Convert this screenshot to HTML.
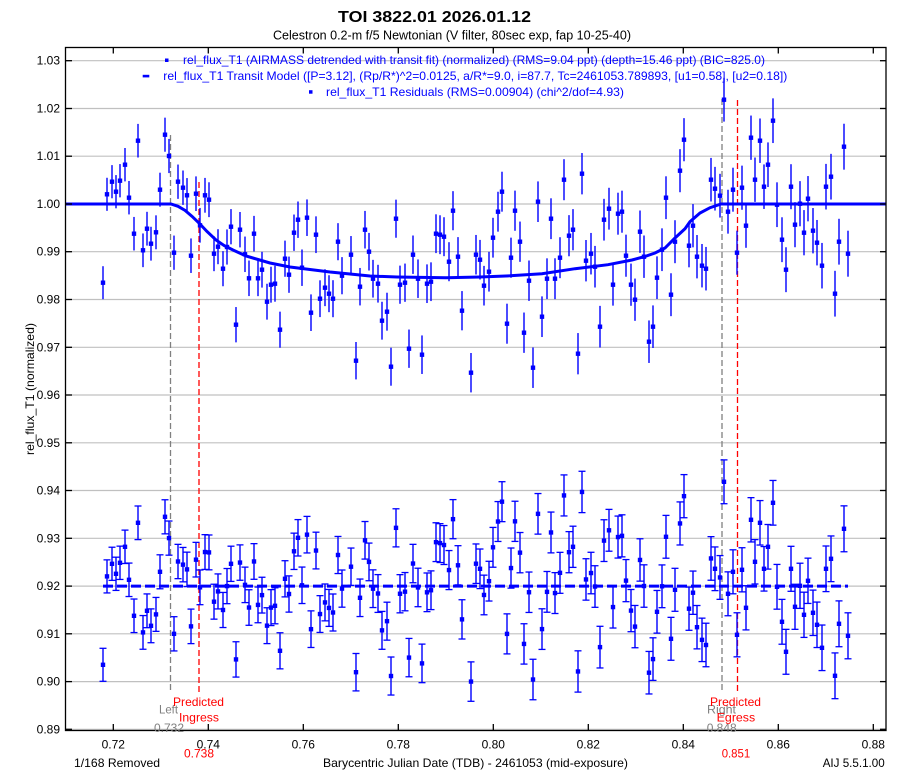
<!DOCTYPE html>
<html>
<head>
<meta charset="utf-8">
<style>
html,body{margin:0;padding:0;background:#fff;}
svg{display:block;}
text{font-family:"Liberation Sans",Arial,sans-serif;}
</style>
</head>
<body>
<svg id="chart" xmlns="http://www.w3.org/2000/svg" width="904" height="774" viewBox="0 0 904 774">
<rect x="0" y="0" width="904" height="774" fill="#fff"/>
<!-- gridlines -->
<g stroke="#c0c0c0" stroke-width="1.2">
<line x1="66" x2="886" y1="60.7" y2="60.7"/>
<line x1="66" x2="886" y1="108.5" y2="108.5"/>
<line x1="66" x2="886" y1="156.2" y2="156.2"/>
<line x1="66" x2="886" y1="204" y2="204"/>
<line x1="66" x2="886" y1="251.7" y2="251.7"/>
<line x1="66" x2="886" y1="299.5" y2="299.5"/>
<line x1="66" x2="886" y1="347.3" y2="347.3"/>
<line x1="66" x2="886" y1="395" y2="395"/>
<line x1="66" x2="886" y1="442.8" y2="442.8"/>
<line x1="66" x2="886" y1="490.5" y2="490.5"/>
<line x1="66" x2="886" y1="538.3" y2="538.3"/>
<line x1="66" x2="886" y1="586.1" y2="586.1"/>
<line x1="66" x2="886" y1="633.8" y2="633.8"/>
<line x1="66" x2="886" y1="681.6" y2="681.6"/>
<line x1="66" x2="886" y1="729.3" y2="729.3"/>
</g>
<!-- vertical dashed markers -->
<g stroke-width="1.3" stroke-dasharray="6 3" fill="none">
<line x1="170.5" x2="170.5" y1="135" y2="692" stroke="#808080"/>
<line x1="199" x2="199" y1="182" y2="692" stroke="#ff0000"/>
<line x1="722" x2="722" y1="99" y2="692" stroke="#808080"/>
<line x1="737.5" x2="737.5" y1="100" y2="692" stroke="#ff0000"/>
</g>
<g id="data"></g>
<!-- frame -->
<rect x="65.5" y="47.5" width="820.5" height="683" fill="none" stroke="#000" stroke-width="1.3"/>
<g stroke="#000" stroke-width="1.3">
<line x1="66" x2="72" y1="60.7" y2="60.7"/><line x1="880" x2="886" y1="60.7" y2="60.7"/>
<line x1="66" x2="72" y1="108.5" y2="108.5"/><line x1="880" x2="886" y1="108.5" y2="108.5"/>
<line x1="66" x2="72" y1="156.2" y2="156.2"/><line x1="880" x2="886" y1="156.2" y2="156.2"/>
<line x1="66" x2="72" y1="204" y2="204"/><line x1="880" x2="886" y1="204" y2="204"/>
<line x1="66" x2="72" y1="251.7" y2="251.7"/><line x1="880" x2="886" y1="251.7" y2="251.7"/>
<line x1="66" x2="72" y1="299.5" y2="299.5"/><line x1="880" x2="886" y1="299.5" y2="299.5"/>
<line x1="66" x2="72" y1="347.3" y2="347.3"/><line x1="880" x2="886" y1="347.3" y2="347.3"/>
<line x1="66" x2="72" y1="395" y2="395"/><line x1="880" x2="886" y1="395" y2="395"/>
<line x1="66" x2="72" y1="442.8" y2="442.8"/><line x1="880" x2="886" y1="442.8" y2="442.8"/>
<line x1="66" x2="72" y1="490.5" y2="490.5"/><line x1="880" x2="886" y1="490.5" y2="490.5"/>
<line x1="66" x2="72" y1="538.3" y2="538.3"/><line x1="880" x2="886" y1="538.3" y2="538.3"/>
<line x1="66" x2="72" y1="586.1" y2="586.1"/><line x1="880" x2="886" y1="586.1" y2="586.1"/>
<line x1="66" x2="72" y1="633.8" y2="633.8"/><line x1="880" x2="886" y1="633.8" y2="633.8"/>
<line x1="66" x2="72" y1="681.6" y2="681.6"/><line x1="880" x2="886" y1="681.6" y2="681.6"/>
<line x1="66" x2="72" y1="729.3" y2="729.3"/><line x1="880" x2="886" y1="729.3" y2="729.3"/>
<line x1="113.3" x2="113.3" y1="47" y2="53.5"/><line x1="113.3" x2="113.3" y1="724" y2="730.5"/>
<line x1="208.3" x2="208.3" y1="47" y2="53.5"/><line x1="208.3" x2="208.3" y1="724" y2="730.5"/>
<line x1="303.3" x2="303.3" y1="47" y2="53.5"/><line x1="303.3" x2="303.3" y1="724" y2="730.5"/>
<line x1="398.3" x2="398.3" y1="47" y2="53.5"/><line x1="398.3" x2="398.3" y1="724" y2="730.5"/>
<line x1="493.3" x2="493.3" y1="47" y2="53.5"/><line x1="493.3" x2="493.3" y1="724" y2="730.5"/>
<line x1="588.3" x2="588.3" y1="47" y2="53.5"/><line x1="588.3" x2="588.3" y1="724" y2="730.5"/>
<line x1="683.3" x2="683.3" y1="47" y2="53.5"/><line x1="683.3" x2="683.3" y1="724" y2="730.5"/>
<line x1="778.3" x2="778.3" y1="47" y2="53.5"/><line x1="778.3" x2="778.3" y1="724" y2="730.5"/>
<line x1="873.3" x2="873.3" y1="47" y2="53.5"/><line x1="873.3" x2="873.3" y1="724" y2="730.5"/>
</g>
<!-- y tick labels -->
<g font-size="12" fill="#000" text-anchor="end">
<text x="60" y="64.7">1.03</text>
<text x="60" y="112.5">1.02</text>
<text x="60" y="160.2">1.01</text>
<text x="60" y="208">1.00</text>
<text x="60" y="255.7">0.99</text>
<text x="60" y="303.5">0.98</text>
<text x="60" y="351.3">0.97</text>
<text x="60" y="399">0.96</text>
<text x="60" y="446.8">0.95</text>
<text x="60" y="494.5">0.94</text>
<text x="60" y="542.3">0.93</text>
<text x="60" y="590.1">0.92</text>
<text x="60" y="637.8">0.91</text>
<text x="60" y="685.6">0.90</text>
<text x="60" y="733.3">0.89</text>
</g>
<!-- x tick labels -->
<g font-size="12" fill="#000" text-anchor="middle">
<text x="113.3" y="748.7">0.72</text>
<text x="208.3" y="748.7">0.74</text>
<text x="303.3" y="748.7">0.76</text>
<text x="398.3" y="748.7">0.78</text>
<text x="493.3" y="748.7">0.80</text>
<text x="588.3" y="748.7">0.82</text>
<text x="683.3" y="748.7">0.84</text>
<text x="778.3" y="748.7">0.86</text>
<text x="873.3" y="748.7">0.88</text>
</g>
<!-- titles -->
<text x="338" y="22" font-size="16" font-weight="bold" fill="#000" textLength="193" lengthAdjust="spacingAndGlyphs">TOI 3822.01 2026.01.12</text>
<text x="273" y="39.5" font-size="13" fill="#000" textLength="358" lengthAdjust="spacingAndGlyphs">Celestron 0.2-m f/5 Newtonian (V filter, 80sec exp, fap 10-25-40)</text>
<!-- legend -->
<g font-size="12" fill="#0000ff">
<text x="183" y="63.8" textLength="582" lengthAdjust="spacingAndGlyphs">rel_flux_T1 (AIRMASS detrended with transit fit) (normalized) (RMS=9.04 ppt) (depth=15.46 ppt) (BIC=825.0)</text>
<text x="163.3" y="79.8" textLength="624" lengthAdjust="spacingAndGlyphs">rel_flux_T1 Transit Model ([P=3.12], (Rp/R*)^2=0.0125, a/R*=9.0, i=87.7, Tc=2461053.789893, [u1=0.58], [u2=0.18])</text>
<text x="326" y="95.8" textLength="298" lengthAdjust="spacingAndGlyphs">rel_flux_T1 Residuals (RMS=0.00904) (chi^2/dof=4.93)</text>
</g>
<rect x="165" y="58.5" width="3.5" height="3.5" fill="#0000ff"/>
<rect x="142.7" y="74.8" width="6.6" height="2.6" fill="#0000ff"/>
<rect x="309" y="90.2" width="3.5" height="3.5" fill="#0000ff"/>
<!-- axis titles -->
<text transform="translate(34,389) rotate(-90)" font-size="12" fill="#000" text-anchor="middle" textLength="132" lengthAdjust="spacingAndGlyphs">rel_flux_T1 (normalized)</text>
<text x="74" y="767" font-size="12" fill="#000" textLength="86" lengthAdjust="spacingAndGlyphs">1/168 Removed</text>
<text x="323" y="767" font-size="12" fill="#000" textLength="305" lengthAdjust="spacingAndGlyphs">Barycentric Julian Date (TDB) - 2461053 (mid-exposure)</text>
<text x="822.7" y="767" font-size="12" fill="#000" textLength="62" lengthAdjust="spacingAndGlyphs">AIJ 5.5.1.00</text>
<!-- ingress/egress labels -->
<g font-size="12">
<text x="159" y="713.5" fill="#808080" textLength="19" lengthAdjust="spacingAndGlyphs">Left</text>
<text x="154" y="732" fill="#808080" textLength="30" lengthAdjust="spacingAndGlyphs">0.732</text>
<text x="173" y="706" fill="#ff0000" textLength="51" lengthAdjust="spacingAndGlyphs">Predicted</text>
<text x="179" y="721.5" fill="#ff0000" textLength="40" lengthAdjust="spacingAndGlyphs">Ingress</text>
<text x="184" y="757.5" fill="#ff0000" textLength="30" lengthAdjust="spacingAndGlyphs">0.738</text>
<text x="707" y="713.5" fill="#808080" textLength="29" lengthAdjust="spacingAndGlyphs">Right</text>
<text x="706.7" y="732" fill="#808080" textLength="30" lengthAdjust="spacingAndGlyphs">0.848</text>
<text x="710" y="706" fill="#ff0000" textLength="51" lengthAdjust="spacingAndGlyphs">Predicted</text>
<text x="716.7" y="721.5" fill="#ff0000" textLength="38.5" lengthAdjust="spacingAndGlyphs">Egress</text>
<text x="721.7" y="757.5" fill="#ff0000" textLength="28.5" lengthAdjust="spacingAndGlyphs">0.851</text>
</g>
</svg>
<script>
(function(){
var NS="http://www.w3.org/2000/svg";
var g=document.getElementById("data");
function el(n,a){var e=document.createElementNS(NS,n);for(var k in a)e.setAttribute(k,a[k]);g.appendChild(e);return e;}
var raw="103,282.7 107,194.3 112,181.7 116,191.7 120,180.7 125,164.7 129,197.7 134,233.7 138,140.7 143,250.3 147,228.7 151,243.7 156,232.3 160,189.7 165,134.7 169,156 174,252.7 178,181.7 183,187.7 187,195.3 191,255.7 196,193.7 200,225.3 205,195.3 209,199.7 214,253.7 218,246.7 223,268.7 227,247 231,226.7 236,324.7 240,229.7 245,254.3 249,278.3 254,233.7 258,278.3 262,269.7 267,301.7 271,284.7 275,283.7 280,329.7 285,258.7 289,274.7 294,232.7 298,219.7 302,267.7 307,217.7 311,312.7 316,234.7 320,298.7 325,287.7 329,293.7 333,298.7 338,241.7 342,275.7 351,254.7 356,360.7 360,286.7 365,229.7 369,251.7 373,278.7 378,283.7 382,320.7 387,311.7 391,366.7 396,218.7 400,284.7 405,282.7 409,348.7 413,254.7 418,278.7 422,354.7 427,283.7 431,281.7 436,233.7 440,234.7 444,236.7 449,261.7 453,210.7 458,256.7 462,310.7 471,372.7 476,254.7 480,259.7 484,285.7 489,271.7 493,237.7 498,211.7 502,191.7 507,323.7 511,257.7 515,210.7 520,241.7 524,332.7 529,280.7 533,367.7 538,201.7 542,316.7 547,278.7 551,218.7 555,278.7 560,257.7 564,179.7 569,235.7 573,229.7 578,353.7 582,173.7 586,260.7 591,253.7 595,266.7 600,326.7 604,219.7 609,208.7 613,284.7 618,213.7 622,211.7 626,255.7 631,284.7 635,299.7 640,231.7 644,256.7 649,341.7 653,326.7 657,277.7 662,249.7 666,197.7 671,294.7 675,241.7 680,170.7 684,139.7 689,245.7 693,225.7 697,256.7 702,265.7 706,268.7 711,179.7 715,188.7 720,195.7 724,99.7 728,211.7 733,189.7 737,252.7 742,187.7 746,225.7 751,137.7 755,179.7 760,140.7 764,186.7 768,164.7 773,120.7 777,204.7 782,239.7 786,269.7 791,186.7 795,224.7 800,203.7 804,232.7 808,198.7 813,230.7 817,242.7 822,265.7 826,186.7 831,176.7 835,293.7 839,241.7 844,146.7 848,253.7";
var pts=raw.split(" ").map(function(s){var p=s.split(",");return [parseFloat(p[0]),parseFloat(p[1])];});
var M=[[66,204],[171,204],[178,206.3],[185,210.3],[192,216.3],[199,223],[207,231.5],[216,240],[224,245.5],[233,250],[246,256],[258,259.5],[270,263],[290,267],[310,269.5],[330,272],[350,274],[370,276],[397,277],[446,277.8],[480,277],[510,275.8],[542,273.7],[575,268.7],[608,264.7],[632,260],[645,256.5],[655,253],[665,248],[675,238],[685,228.7],[690,221.7],[700,213],[710,207.7],[721,204],[886,204]];
function model(x){for(var i=0;i<M.length-1;i++){if(x>=M[i][0]&&x<=M[i+1][0]){var t=(x-M[i][0])/(M[i+1][0]-M[i][0]);return M[i][1]+t*(M[i+1][1]-M[i][1]);}}return 204;}
var off=586.1;
el("line",{x1:103,x2:848,y1:586.1,y2:586.1,stroke:"#0000ff","stroke-width":3,"stroke-dasharray":"10 4"});
pts.forEach(function(p){
 var x=p[0],y=p[1]-model(p[0])+off,e=16.5+(x-103)*0.00872;
 el("line",{x1:x,x2:x,y1:y-e,y2:y+e,stroke:"#0000ff","stroke-width":1.4});
 el("line",{x1:x-3.5,x2:x+3.5,y1:y-e,y2:y-e,stroke:"#0000ff","stroke-width":1.3});
 el("line",{x1:x-3.5,x2:x+3.5,y1:y+e,y2:y+e,stroke:"#0000ff","stroke-width":1.3});
 el("rect",{x:x-2.2,y:y-2.2,width:4.4,height:4.4,fill:"#0000ff"});
});
el("polyline",{points:M.map(function(m){return m[0]+","+m[1];}).join(" "),fill:"none",stroke:"#0000ff","stroke-width":3});
pts.forEach(function(p){
 var x=p[0],y=p[1],e=16.5+(x-103)*0.00872;
 el("line",{x1:x,x2:x,y1:y-e,y2:y+e,stroke:"#0000ff","stroke-width":1.4});
 el("rect",{x:x-2.2,y:y-2.2,width:4.4,height:4.4,fill:"#0000ff"});
});
})();
</script>
</body>
</html>
